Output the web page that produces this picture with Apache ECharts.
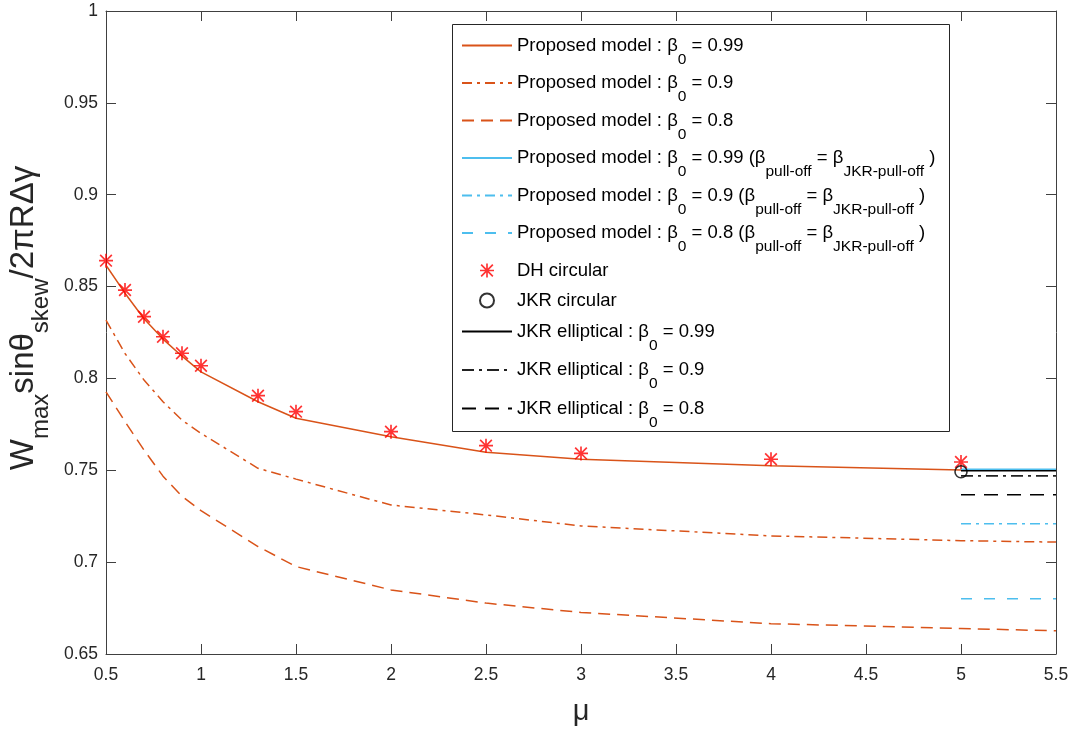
<!DOCTYPE html>
<html>
<head>
<meta charset="utf-8">
<script src="https://cdn.jsdelivr.net/npm/echarts@6/dist/echarts.min.js"></script>
<style>
html,body{margin:0;padding:0;background:#fff;}
#chart{width:1075px;height:731px;}
</style>
</head>
<body>
<div id="chart"></div>
<script>
// ---- data ----
const mu = [0.5, 0.6, 0.7, 0.8, 0.9, 1, 1.3, 1.5, 2, 2.5, 3, 4, 5, 5.5];
const proposed099 = [0.8616, 0.8464, 0.8325, 0.8214, 0.8121, 0.8036, 0.7873, 0.7783, 0.7683, 0.7598, 0.7560, 0.7525, 0.7502, 0.7500];
const proposed090 = [0.8317, 0.8136, 0.7991, 0.7873, 0.7773, 0.7701, 0.7511, 0.7452, 0.7311, 0.7257, 0.7197, 0.7143, 0.7117, 0.7109];
const proposed080 = [0.7927, 0.7765, 0.7610, 0.7468, 0.7358, 0.7280, 0.7085, 0.6976, 0.6849, 0.6777, 0.6726, 0.6665, 0.6639, 0.6626];

const muRight = [5, 5.5];
const pullOff099 = [0.7505, 0.7505];
const pullOff090 = [0.7209, 0.7209];
const pullOff080 = [0.6801, 0.6801];
const jkrEll099 = [0.7497, 0.7497];
const jkrEll090 = [0.7470, 0.7470];
const jkrEll080 = [0.7367, 0.7367];

const muDH = [0.5, 0.6, 0.7, 0.8, 0.9, 1, 1.3, 1.5, 2, 2.5, 3, 4, 5];
const dhCircular = [0.8641, 0.8481, 0.8336, 0.8227, 0.8137, 0.8069, 0.7906, 0.7819, 0.7710, 0.7634, 0.7592, 0.7560, 0.7545];
const muJKRc = [5];
const jkrCircular = [0.7492];

const xTicks = {min: 0.5, max: 5.5, step: 0.5};
const yTicks = {min: 0.65, max: 1, step: 0.05};

const legendGroupA = ['p99','p90','p80','c99','c90','c80'];
const legendGroupB = ['dh','jkrc'];
const legendGroupC = ['e99','e90','e80'];
const markerSeries = ['dh', 'jkrc'];
const legendLabels = {
  p99: '{n|Proposed model : β}{s|0}{n| = 0.99}',
  p90: '{n|Proposed model : β}{s|0}{n| = 0.9}',
  p80: '{n|Proposed model : β}{s|0}{n| = 0.8}',
  c99: '{n|Proposed model : β}{s|0}{n| = 0.99 (β}{s|pull-off}{n| = β}{s|JKR-pull-off}{n| )}',
  c90: '{n|Proposed model : β}{s|0}{n| = 0.9 (β}{s|pull-off}{n| = β}{s|JKR-pull-off}{n| )}',
  c80: '{n|Proposed model : β}{s|0}{n| = 0.8 (β}{s|pull-off}{n| = β}{s|JKR-pull-off}{n| )}',
  dh: '{m|DH circular}',
  jkrc: '{m|JKR circular}',
  e99: '{n|JKR elliptical : β}{s|0}{n| = 0.99}',
  e90: '{n|JKR elliptical : β}{s|0}{n| = 0.9}',
  e80: '{n|JKR elliptical : β}{s|0}{n| = 0.8}'
};

const FONT = '"Liberation Sans", Arial, Helvetica, sans-serif';
const ORANGE = '#D95319', CYAN = '#4DBEEE', RED = '#FF0000', BLACK = '#000000';
const AXIS = '#404040';
const SOLID = 'solid', DASHDOT = [10, 5, 3, 5], DASHED = [12, 7];
const STAR = 'path://M44 0L56 0L56 100L44 100ZM0 44L100 44L100 56L0 56ZM4 12.5L12.5 4L96 87.5L87.5 96ZM87.5 4L96 12.5L12.5 96L4 87.5Z';

function zip(xs, ys) { return xs.map((x, i) => [x, ys[i]]); }
function lineSeries(name, xs, ys, color, type, width) {
  return {
    name: name, type: 'line', data: zip(xs, ys), symbol: 'none', showSymbol: false,
    lineStyle: {color: color, type: type, width: width || 1.5},
    itemStyle: {color: color}, silent: true, animation: false
  };
}
function legendBlock(names, left, top, gap) {
  return {
    orient: 'vertical', left: left, top: top, padding: 0, itemGap: gap,
    itemWidth: 50, itemHeight: 14, selectedMode: false, z: 6,
    data: names.map(n => markerSeries.indexOf(n) >= 0 ? {name: n} : {name: n, itemStyle: {opacity: 0}}),
    formatter: function (n) { return legendLabels[n]; },
    textStyle: {
      color: '#000', fontFamily: FONT, fontSize: 18.5,
      rich: {
        n: {fontSize: 18.5, fontFamily: FONT, color: '#000'},
        m: {fontSize: 18.5, fontFamily: FONT, color: '#000'},
        s: {fontSize: 15.5, height: 10, padding: [28, 0, 0, 0], fontFamily: FONT, color: '#000'}
      }
    }
  };
}

const chart = echarts.init(document.getElementById('chart'), null, {renderer: 'canvas'});

const axisCommon = {
  axisLine: {show: true, onZero: false, lineStyle: {color: AXIS, width: 1}},
  axisTick: {show: true, inside: true, length: 10, lineStyle: {color: AXIS, width: 1}},
  splitLine: {show: false}
};

const option = {
  animation: false,
  backgroundColor: '#ffffff',
  grid: {left: 106, right: 19, top: 11, bottom: 77, containLabel: false},
  xAxis: [
    Object.assign({}, axisCommon, {
      type: 'value', position: 'bottom', min: xTicks.min, max: xTicks.max, interval: xTicks.step,
      axisLabel: {color: '#262626', fontSize: 17.5, fontFamily: FONT, margin: 12},
      name: 'μ', nameLocation: 'middle', nameGap: 43,
      nameTextStyle: {fontSize: 29, color: '#262626', fontFamily: FONT}
    }),
    Object.assign({}, axisCommon, {
      type: 'value', position: 'top', min: xTicks.min, max: xTicks.max, interval: xTicks.step,
      axisLabel: {show: false}
    })
  ],
  yAxis: [
    Object.assign({}, axisCommon, {
      type: 'value', position: 'left', min: yTicks.min, max: yTicks.max, interval: yTicks.step,
      axisLabel: {color: '#262626', fontSize: 17.5, fontFamily: FONT, margin: 8}
    }),
    Object.assign({}, axisCommon, {
      type: 'value', position: 'right', min: yTicks.min, max: yTicks.max, interval: yTicks.step,
      axisLabel: {show: false}
    })
  ],
  legend: [
    legendBlock(legendGroupA, 461, 36, 6),
    legendBlock(legendGroupB, 479, 261, 11),
    legendBlock(legendGroupC, 461, 322, 7)
  ],
  graphic: [
    {
      type: 'rect', z: 5, silent: true,
      shape: {x: 452.5, y: 24.5, width: 497, height: 407},
      style: {fill: '#ffffff', stroke: '#262626', lineWidth: 1}
    },
    {
      type: 'text', x: 24, y: 318, rotation: Math.PI / 2, silent: true,
      style: {
        text: '{w|W}{s|max}{w|sinθ}{s|skew}{w|/2πRΔγ}',
        align: 'center', verticalAlign: 'middle', fill: '#262626',
        rich: {
          w: {fontSize: 33, lineHeight: 40, fontFamily: FONT, fill: '#262626'},
          s: {fontSize: 24, lineHeight: 24, padding: [34, 0, 0, 0], fontFamily: FONT, fill: '#262626'}
        }
      }
    }
  ],
  series: [
    lineSeries('p99', mu, proposed099, ORANGE, SOLID, 1.5),
    lineSeries('p90', mu, proposed090, ORANGE, DASHDOT, 1.5),
    lineSeries('p80', mu, proposed080, ORANGE, DASHED, 1.5),
    lineSeries('c99', muRight, pullOff099, CYAN, SOLID, 1.5),
    lineSeries('c90', muRight, pullOff090, CYAN, DASHDOT, 1.5),
    lineSeries('c80', muRight, pullOff080, CYAN, [11, 12], 1.5),
    {
      name: 'dh', type: 'scatter', data: zip(muDH, dhCircular), symbol: STAR, symbolSize: 14,
      itemStyle: {color: RED}, silent: true, z: 3
    },
    {
      name: 'jkrc', type: 'scatter', data: zip(muJKRc, jkrCircular), symbol: 'circle', symbolSize: 12,
      itemStyle: {color: 'rgba(255,255,255,0)', borderColor: BLACK, borderWidth: 1.6}, silent: true, z: 4
    },
    lineSeries('e99', muRight, jkrEll099, BLACK, SOLID, 1.5),
    lineSeries('e90', muRight, jkrEll090, '#222', [12, 5, 3, 5], 1.8),
    lineSeries('e80', muRight, jkrEll080, BLACK, [14, 9], 1.5)
  ]
};
chart.setOption(option);
</script>
</body>
</html>
